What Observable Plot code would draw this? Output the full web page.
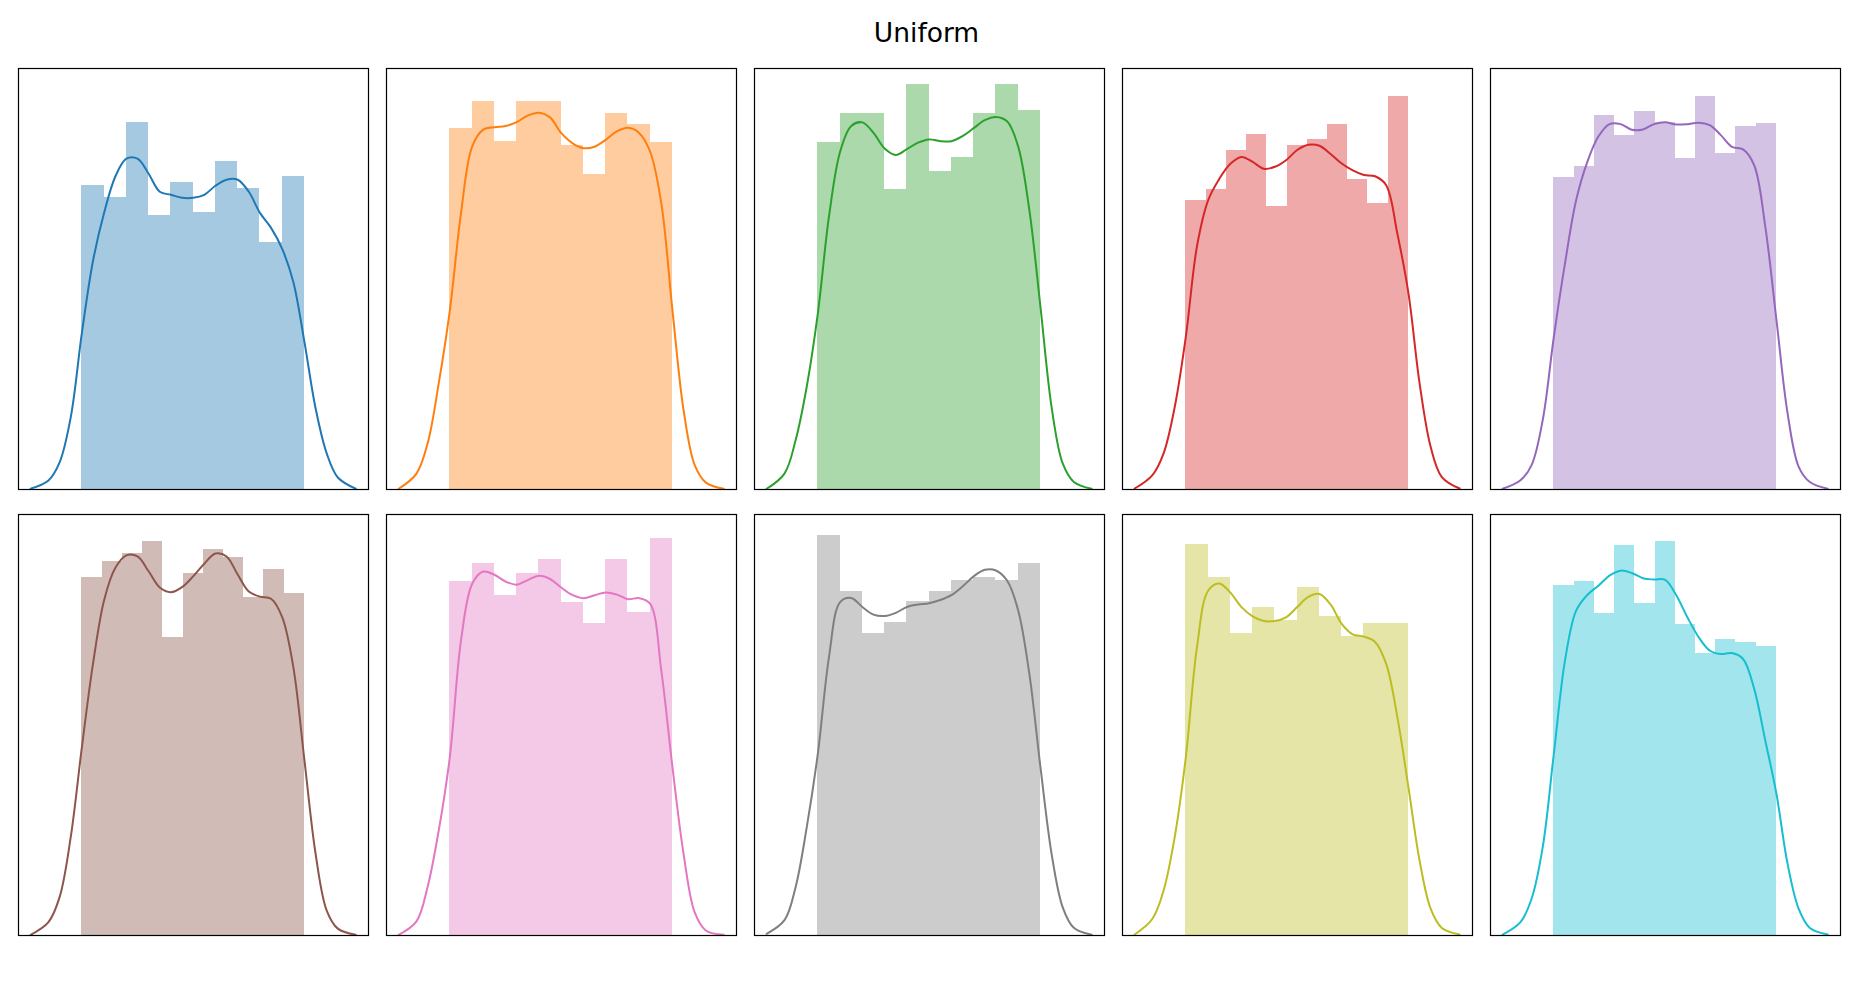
<!DOCTYPE html>
<html><head><meta charset="utf-8">
<script src="https://cdn.jsdelivr.net/npm/d3@7"></script>
<script src="https://cdn.jsdelivr.net/npm/@observablehq/plot@0.6"></script>
<style>
html,body{margin:0;padding:0;background:#fff;}
#fig{position:relative;width:1853px;height:989px;overflow:hidden;font-family:"DejaVu Sans",sans-serif;background:#fff;}
#title{position:absolute;left:0;width:1853px;top:17px;text-align:center;font-size:26.5px;line-height:normal;color:#000;}
.panel{position:absolute;width:354px;height:425px;}
.panel svg{overflow:visible;}
</style></head><body>
<div id="fig"><div id="title">Uniform</div></div>
<script>
const titleText = "Uniform";
const colors = ["#1f77b4","#ff7f0e","#2ca02c","#d62728","#9467bd","#8c564b","#e377c2","#7f7f7f","#bcbd22","#17becf"];

// x positions where the KDE curves were read
const kdeX = [-0.23,-0.15,-0.10,-0.05,0,0.05,0.10,0.15,0.20,0.25,0.30,0.35,0.40,0.45,0.50,0.55,0.60,0.65,0.70,0.75,0.80,0.85,0.90,0.95,1.00,1.05,1.10,1.15,1.23];

// histogram densities (bins span [0,1])
const bars0 = [1.01,0.97,1.22,0.91,1.02,0.92,1.09,1.00,0.82,1.04];
const bars1 = [0.998,1.071,0.960,1.071,1.071,0.949,0.869,1.040,1.009,0.958];
const bars2 = [0.959,1.040,1.040,0.830,1.121,0.880,0.919,1.040,1.121,1.049];
const bars3 = [0.880,0.914,1.033,1.079,0.860,1.046,1.066,1.112,0.944,0.869,1.197];
const bars4 = [0.881,0.912,1.056,1.000,1.068,1.035,0.935,1.110,0.947,1.023,1.034];
const bars5 = [0.990,1.034,1.056,1.090,0.824,1.001,1.068,1.046,0.935,1.012,0.945];
const bars6 = [0.999,1.050,0.960,1.021,1.060,0.939,0.880,1.060,0.911,1.120];
const bars7 = [1.151,0.989,0.868,0.900,0.960,0.989,1.021,1.029,1.021,1.071];
const bars8 = [1.191,1.090,0.919,0.999,0.959,1.060,0.972,0.910,0.950,0.950];
const bars9 = [1.065,1.078,0.981,1.187,1.011,1.200,0.947,0.859,0.901,0.892,0.879];

// KDE densities at kdeX
const kde0 = [0.003,0.03,0.09,0.24,0.52,0.76,0.92,1.04,1.10,1.10,1.05,0.99,0.98,0.97,0.97,0.98,1.01,1.03,1.03,0.99,0.92,0.87,0.80,0.69,0.49,0.27,0.12,0.04,0.003];
const kde1 = [0.002,0.044,0.127,0.293,0.495,0.763,0.947,0.994,1.001,1.004,1.015,1.033,1.041,1.028,0.985,0.957,0.943,0.947,0.966,0.989,0.999,0.985,0.933,0.790,0.495,0.219,0.067,0.019,0.002];
const kde2 = [0.002,0.044,0.136,0.284,0.487,0.755,0.934,1.005,1.015,0.986,0.943,0.925,0.941,0.959,0.968,0.963,0.963,0.977,0.999,1.021,1.030,1.018,0.948,0.773,0.505,0.228,0.072,0.021,0.002];
const kde3 = [0.003,0.044,0.110,0.251,0.465,0.740,0.880,0.945,0.991,1.012,0.997,0.976,0.982,1.002,1.033,1.049,1.046,1.021,0.992,0.971,0.957,0.953,0.926,0.779,0.597,0.323,0.129,0.038,0.003];
const kde4 = [0.002,0.026,0.069,0.196,0.431,0.638,0.816,0.924,0.996,1.031,1.031,1.015,1.016,1.031,1.036,1.030,1.031,1.035,1.028,1.000,0.967,0.960,0.915,0.741,0.478,0.215,0.064,0.021,0.002];
const kde5 = [0.002,0.037,0.106,0.272,0.520,0.751,0.927,1.016,1.051,1.048,1.007,0.962,0.949,0.963,0.993,1.028,1.056,1.048,0.998,0.951,0.937,0.931,0.880,0.742,0.484,0.226,0.069,0.019,0.002];
const kde6 = [0.002,0.040,0.137,0.296,0.504,0.832,0.992,1.027,1.018,0.999,0.990,1.003,1.015,1.006,0.982,0.961,0.952,0.960,0.968,0.962,0.949,0.952,0.936,0.747,0.475,0.230,0.065,0.014,0.002];
const kde7 = [0.005,0.044,0.139,0.311,0.523,0.801,0.959,0.971,0.945,0.923,0.919,0.928,0.945,0.952,0.956,0.965,0.979,1.004,1.033,1.052,1.050,1.021,0.935,0.753,0.484,0.235,0.081,0.022,0.002];
const kde8 = [0.003,0.051,0.137,0.300,0.544,0.878,1.050,1.072,1.044,1.000,0.972,0.958,0.958,0.969,1.000,1.031,1.040,1.008,0.949,0.917,0.910,0.894,0.827,0.665,0.451,0.228,0.081,0.023,0.003];
const kde9 = [0.003,0.041,0.112,0.269,0.554,0.837,0.989,1.037,1.065,1.096,1.111,1.104,1.088,1.084,1.083,1.036,0.969,0.909,0.868,0.857,0.860,0.842,0.751,0.593,0.431,0.218,0.081,0.023,0.003];

// per-panel y-axis upper limits
const yMax = [1.40,1.163,1.164,1.281,1.188,1.164,1.188,1.211,1.282,1.282];
const xDomain = [-0.2846, 1.2877];

const allBars = [bars0,bars1,bars2,bars3,bars4,bars5,bars6,bars7,bars8,bars9];
const allKde = [kde0,kde1,kde2,kde3,kde4,kde5,kde6,kde7,kde8,kde9];

// layout
const colLeft = [18.3, 386.3, 754.3, 1122.3, 1490.3];
const rowTop = [68.3, 513.7];
const panelW = 350, panelH = 421, pad = 2;

document.getElementById("title").textContent = titleText;
const fig = document.getElementById("fig");

for (let i = 0; i < 10; i++) {
  const bars = allBars[i];
  const n = bars.length;
  const barData = bars.map((d, j) => ({x1: j / n, x2: (j + 1) / n, y: d}));
  const kdeData = kdeX.map((x, j) => ({x, y: allKde[i][j]}));
  const fillColor = d3.interpolateRgb("white", colors[i])(0.4);
  const chart = Plot.plot({
    width: panelW + 2 * pad,
    height: panelH + 2 * pad,
    margin: pad,
    x: {domain: xDomain, axis: null},
    y: {domain: [0, yMax[i]], axis: null},
    marks: [
      Plot.rectY(barData, {x1: "x1", x2: "x2", y: "y", fill: fillColor, shapeRendering: "crispEdges"}),
      Plot.line(kdeData, {x: "x", y: "y", stroke: colors[i], strokeWidth: 2, curve: "catmull-rom"}),
      Plot.frame({stroke: "black", strokeWidth: 1.2})
    ]
  });
  const div = document.createElement("div");
  div.className = "panel";
  div.style.left = (colLeft[i % 5] - pad) + "px";
  div.style.top = (rowTop[Math.floor(i / 5)] - pad) + "px";
  div.appendChild(chart);
  fig.appendChild(div);
}
</script>
</body></html>
